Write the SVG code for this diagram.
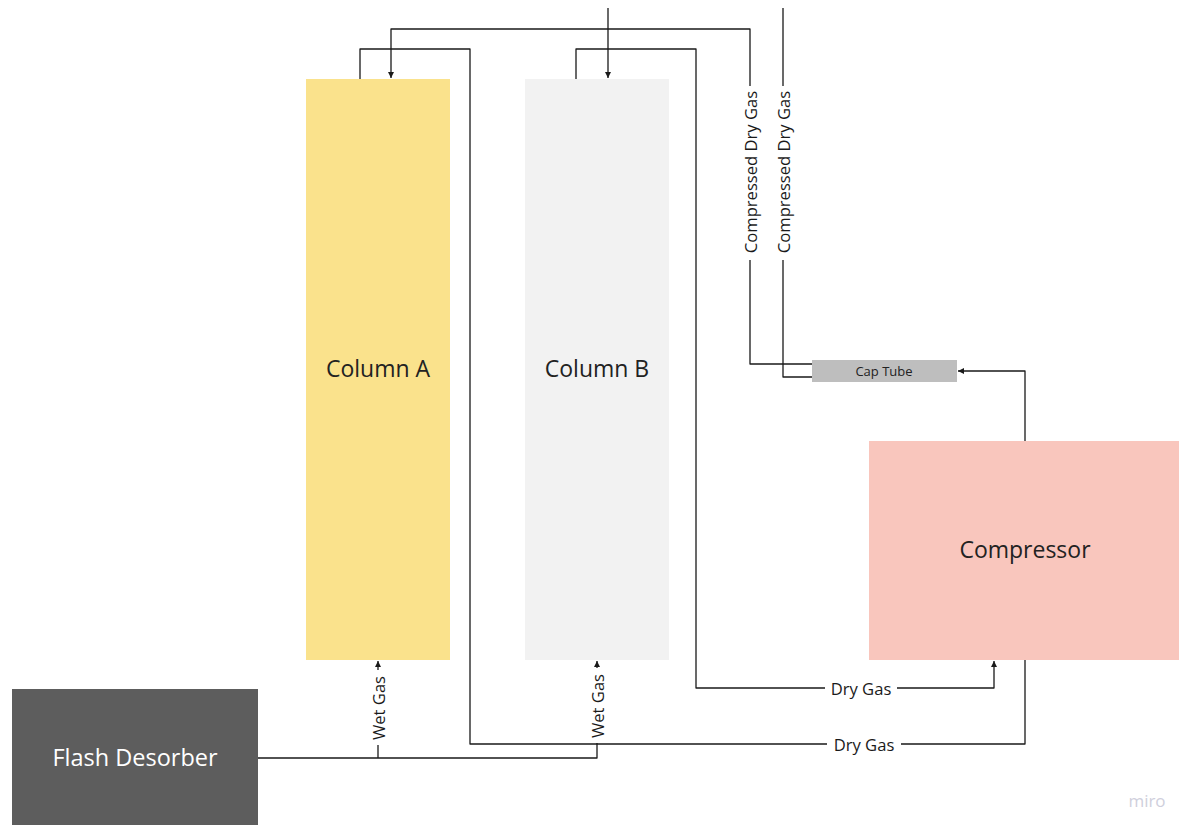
<svg xmlns="http://www.w3.org/2000/svg" width="1179" height="825" viewBox="0 0 1179 825">
  <style>
    .node-text { font-family: "Open Sans", "Liberation Sans", sans-serif; font-size: 23px; fill: #222222; text-anchor: middle; dominant-baseline: central; }
    .wire { fill: none; stroke: #1a1a1a; stroke-width: 1.3; stroke-linejoin: round; }
    .edge-label { font-family: "Open Sans", "Liberation Sans", sans-serif; font-size: 16.6px; fill: #1a1a1a; text-anchor: middle; dominant-baseline: central; }
    .pad { fill: #ffffff; }
  </style>
  <defs>
    <marker id="arrow" markerUnits="userSpaceOnUse" markerWidth="8" markerHeight="8" refX="6" refY="3" orient="auto">
      <path d="M0,0 L6,3 L0,6 z" fill="#1a1a1a"/>
    </marker>
  </defs>

  <rect width="1179" height="825" fill="#ffffff"/>

  <!-- process units -->
  <g id="column-a">
    <rect x="306" y="79" width="144" height="581" fill="#fae28c"/>
    <text class="node-text" x="378" y="368">Column A</text>
  </g>
  <g id="column-b">
    <rect x="525" y="79" width="144" height="581" fill="#f2f2f2"/>
    <text class="node-text" x="597" y="368">Column B</text>
  </g>
  <g id="compressor">
    <rect x="869" y="441" width="310" height="219" fill="#f9c6bd"/>
    <text class="node-text" x="1025" y="549">Compressor</text>
  </g>
  <g id="cap-tube">
    <rect x="812" y="360" width="145" height="22" fill="#bebebe"/>
    <text class="node-text" x="884" y="370.5" style="font-size:13px">Cap Tube</text>
  </g>
  <g id="flash-desorber">
    <rect x="12" y="689" width="246" height="136" fill="#5d5d5d"/>
    <text class="node-text" x="135" y="757" style="fill:#ffffff;font-size:23.5px">Flash Desorber</text>
  </g>

  <!-- piping -->
  <g id="connectors">
    <path class="wire" d="M360,79 V49 H470 V744 H1025 V660"/>
    <path class="wire" d="M576,79 V49 H696 V688 H994 V661" marker-end="url(#arrow)"/>
    <path class="wire" d="M812,364 H750 V29 H391 V78" marker-end="url(#arrow)"/>
    <path class="wire" d="M812,377 H783 V8"/>
    <path class="wire" d="M608,8 V78" marker-end="url(#arrow)"/>
    <path class="wire" d="M1025,441 V371 H958" marker-end="url(#arrow)"/>
    <path class="wire" d="M258,758 H597 V661" marker-end="url(#arrow)"/>
    <path class="wire" d="M378,758 V661" marker-end="url(#arrow)"/>

    <!-- line labels -->
    <rect class="pad" x="825" y="679" width="72" height="18"/>
    <text class="edge-label" x="861" y="688">Dry Gas</text>
    <rect class="pad" x="827" y="735" width="74" height="18"/>
    <text class="edge-label" x="864" y="744">Dry Gas</text>
    <rect class="pad" x="741" y="86" width="18" height="174"/>
    <text class="edge-label" transform="translate(750,172) rotate(-90)">Compressed Dry Gas</text>
    <rect class="pad" x="774" y="86" width="18" height="174"/>
    <text class="edge-label" transform="translate(783,172) rotate(-90)">Compressed Dry Gas</text>
    <rect class="pad" x="369" y="670" width="18" height="75"/>
    <text class="edge-label" transform="translate(378,708) rotate(-90)">Wet Gas</text>
    <rect class="pad" x="588" y="668" width="18" height="75"/>
    <text class="edge-label" transform="translate(597,706) rotate(-90)">Wet Gas</text>
  </g>

  <text x="1147" y="800" text-anchor="middle" dominant-baseline="central" style="font-family:'Open Sans','Liberation Sans',sans-serif;font-size:17px;fill:#cfcfdc">miro</text>
</svg>
